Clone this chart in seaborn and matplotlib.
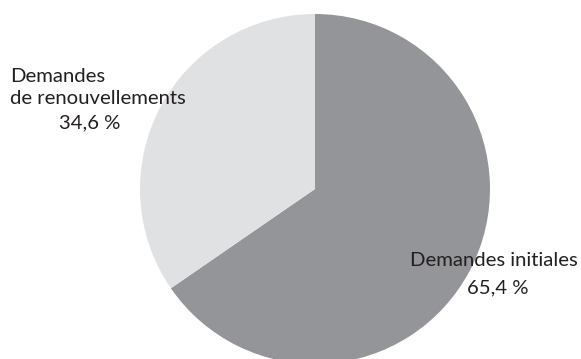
import matplotlib
matplotlib.use("Agg")
import matplotlib.pyplot as plt
import seaborn as sns

categories = ["Demandes initiales", "Demandes\nde renouvellements"]
values = [65.4, 34.6]
pct_labels = ["65,4 %", "34,6 %"]
colors = ["#939598", "#e0e1e3"]

sns.set_theme(style="white")
plt.rcParams["font.family"] = ["Lato", "DejaVu Sans"]

W, H = 581, 359
fig = plt.figure(figsize=(W / 100, H / 100), dpi=100)
fig.patch.set_facecolor("white")

cx, cy, r = 315, 359 - 189, 175
ax = fig.add_axes([(cx - r) / W, (cy - r) / H, 2 * r / W, 2 * r / H])
ax.pie(values, colors=colors, startangle=90, counterclock=False,
       radius=1, wedgeprops=dict(linewidth=0))
ax.set_xlim(-1, 1)
ax.set_ylim(-1, 1)
ax.set_aspect("equal")
ax.axis("off")

tc = "#231f20"
fs = 14.6
# Right label (Demandes initiales)
fig.text(494 / W, 1 - 266.5 / H, categories[0], ha="center", va="baseline",
         fontsize=fs, color=tc)
fig.text(498 / W, 1 - 293 / H, pct_labels[0], ha="center", va="baseline",
         fontsize=fs, color=tc)
# Left label (Demandes de renouvellements)
lines = categories[1].split("\n")
fig.text(10 / W, 1 - 82 / H, lines[0], ha="left", va="baseline",
         fontsize=fs, color=tc)
fig.text(10 / W, 1 - 104 / H, lines[1], ha="left", va="baseline",
         fontsize=fs, color=tc)
fig.text(90 / W, 1 - 128 / H, pct_labels[1], ha="center", va="baseline",
         fontsize=fs, color=tc)

fig.savefig("out.png", dpi=100, facecolor="white")
